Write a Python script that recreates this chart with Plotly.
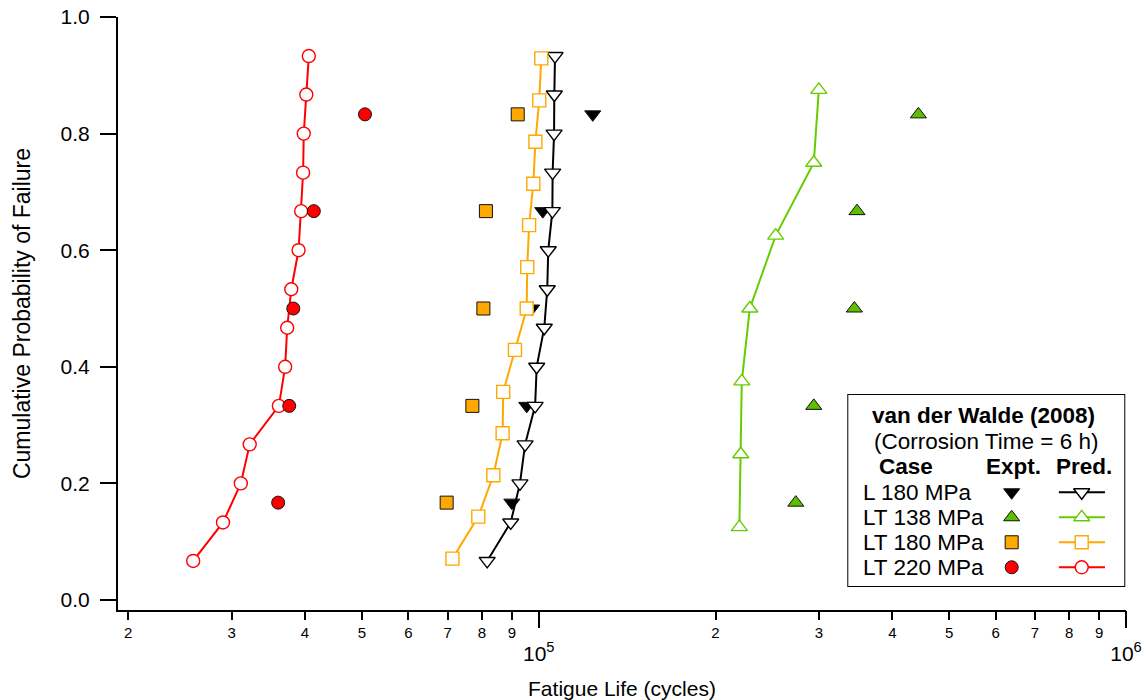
import plotly.graph_objects as go

# ---------------- data ----------------
cases = ["L 180 MPa", "LT 138 MPa", "LT 180 MPa", "LT 220 MPa"]

expt_prob = [0.167, 0.333, 0.500, 0.667, 0.833]

l180_pred_life = [81700, 89600, 92900, 94800, 98600, 99200, 102200, 103400,
                  103800, 105500, 105600, 106200, 106300, 106600]
l180_pred_prob = [0.067, 0.133, 0.200, 0.267, 0.333, 0.400, 0.467, 0.533,
                  0.600, 0.667, 0.733, 0.800, 0.867, 0.933]
l180_expt_life = [90000, 95400, 97300, 101600, 123600]

lt138_pred_life = [219600, 220800, 221700, 228800, 253200, 294000, 299900]
lt138_pred_prob = [0.125, 0.250, 0.375, 0.500, 0.625, 0.750, 0.875]
lt138_expt_life = [274000, 294000, 344700, 348300, 443100]

lt180_pred_life = [71300, 78900, 83700, 86800, 87000, 91100, 95400, 95600,
                   96300, 97900, 98700, 100200, 101000]
lt180_pred_prob = [0.071, 0.143, 0.214, 0.286, 0.357, 0.429, 0.500, 0.571,
                   0.643, 0.714, 0.786, 0.857, 0.929]
lt180_expt_life = [69700, 77100, 80500, 81300, 92100]

lt220_pred_life = [25800, 29000, 31100, 32200, 36100, 37000, 37300, 37900,
                   39000, 39400, 39700, 39800, 40200, 40600]
lt220_pred_prob = [0.067, 0.133, 0.200, 0.267, 0.333, 0.400, 0.467, 0.533,
                   0.600, 0.667, 0.733, 0.800, 0.867, 0.933]
lt220_expt_life = [36000, 37600, 38200, 41400, 50600]

digit_tick_vals = [20000, 30000, 40000, 50000, 60000, 70000, 80000, 90000,
                   200000, 300000, 400000, 500000, 600000, 700000, 800000, 900000]
digit_tick_text = ["2", "3", "4", "5", "6", "7", "8", "9",
                   "2", "3", "4", "5", "6", "7", "8", "9"]
decade_tick_vals = [100000, 1000000]
decade_tick_text = ["10<sup>5</sup>", "10<sup>6</sup>"]
y_tick_vals = [0.0, 0.2, 0.4, 0.6, 0.8, 1.0]

# ---------------- styles ----------------
FONT = "Liberation Sans, Arial, Helvetica, sans-serif"
BLACK = "#000000"
GREEN = "#5CC000"
GREEN_LINE = "#66CC00"
ORANGE = "#FFA800"
RED = "#FF0000"
LEG_FONT = 22.5

styles = {
    "L 180 MPa": dict(color=BLACK, line=BLACK, psym="triangle-down", esym="triangle-down", size=14),
    "LT 138 MPa": dict(color=GREEN, line=GREEN_LINE, psym="triangle-up", esym="triangle-up", size=14),
    "LT 180 MPa": dict(color=ORANGE, line=ORANGE, psym="square", esym="square", size=13),
    "LT 220 MPa": dict(color=RED, line=RED, psym="circle", esym="circle", size=13),
}

series = {
    "L 180 MPa": (l180_pred_life, l180_pred_prob, l180_expt_life),
    "LT 138 MPa": (lt138_pred_life, lt138_pred_prob, lt138_expt_life),
    "LT 180 MPa": (lt180_pred_life, lt180_pred_prob, lt180_expt_life),
    "LT 220 MPa": (lt220_pred_life, lt220_pred_prob, lt220_expt_life),
}


def pred_trace(name, xaxis):
    st = styles[name]
    x, y, _ = series[name]
    return go.Scatter(
        x=x, y=y, mode="lines+markers", name=name + " Pred.", showlegend=False,
        line=dict(color=st["line"], width=2),
        marker=dict(symbol=st["psym"], size=st["size"], color="white", opacity=1,
                    line=dict(color=st["line"], width=1.4)),
        xaxis=xaxis, yaxis="y", hoverinfo="x+y+name")


def expt_trace(name, xaxis):
    st = styles[name]
    _, _, x = series[name]
    return go.Scatter(
        x=x, y=expt_prob, mode="markers", name=name + " Expt.", showlegend=False,
        marker=dict(symbol=st["esym"], size=st["size"], color=st["color"], opacity=1,
                    line=dict(color="#111111", width=1)),
        xaxis=xaxis, yaxis="y", hoverinfo="x+y+name")


fig = go.Figure()
fig.add_trace(expt_trace("L 180 MPa", "x"))
fig.add_trace(pred_trace("L 180 MPa", "x"))
fig.add_trace(expt_trace("LT 180 MPa", "x"))
fig.add_trace(pred_trace("LT 180 MPa", "x"))
fig.add_trace(pred_trace("LT 138 MPa", "x2"))
fig.add_trace(expt_trace("LT 138 MPa", "x2"))
fig.add_trace(pred_trace("LT 220 MPa", "x2"))
fig.add_trace(expt_trace("LT 220 MPa", "x2"))

# ---------------- legend table (inset axes) ----------------
EXPT_COL = 0.592
PRED_L, PRED_M, PRED_R = 0.763, 0.8457, 0.930
for name in cases:
    st = styles[name]
    fig.add_trace(go.Scatter(
        x=[PRED_L, PRED_R], y=[name, name], mode="lines", showlegend=False,
        line=dict(color=st["line"], width=2), xaxis="x3", yaxis="y3", hoverinfo="skip"))
fig.add_trace(go.Scatter(
    x=[PRED_M] * len(cases), y=cases, mode="markers", showlegend=False,
    marker=dict(symbol=[styles[c]["psym"] for c in cases],
                size=[styles[c]["size"] for c in cases], color="white", opacity=1,
                line=dict(color=[styles[c]["line"] for c in cases], width=1.4)),
    xaxis="x3", yaxis="y3", hoverinfo="skip"))
fig.add_trace(go.Scatter(
    x=[EXPT_COL] * len(cases), y=cases, mode="markers", showlegend=False,
    marker=dict(symbol=[styles[c]["esym"] for c in cases],
                size=[styles[c]["size"] for c in cases],
                color=[styles[c]["color"] for c in cases], opacity=1,
                line=dict(color="#111111", width=1)),
    xaxis="x3", yaxis="y3", hoverinfo="skip"))

ann = []
for name in cases:
    ann.append(dict(x=0.045, y=name, xref="x3", yref="y3", text=name, showarrow=False,
                    xanchor="left", yanchor="middle", font=dict(size=LEG_FONT, color=BLACK)))
ann += [
    dict(x=0.491, y=6.09, xref="x3", yref="y3", text="<b>van der Walde (2008)</b>",
         showarrow=False, xanchor="center", yanchor="middle", font=dict(size=LEG_FONT, color=BLACK)),
    dict(x=0.500, y=5.05, xref="x3", yref="y3", text="(Corrosion Time = 6 h)",
         showarrow=False, xanchor="center", yanchor="middle", font=dict(size=LEG_FONT, color=BLACK)),
    dict(x=0.208, y=4.05, xref="x3", yref="y3", text="<b>Case</b>",
         showarrow=False, xanchor="center", yanchor="middle", font=dict(size=LEG_FONT, color=BLACK)),
    dict(x=0.598, y=4.05, xref="x3", yref="y3", text="<b>Expt.</b>",
         showarrow=False, xanchor="center", yanchor="middle", font=dict(size=LEG_FONT, color=BLACK)),
    dict(x=0.854, y=4.05, xref="x3", yref="y3", text="<b>Pred.</b>",
         showarrow=False, xanchor="center", yanchor="middle", font=dict(size=LEG_FONT, color=BLACK)),
]

X_RANGE = [4.2836, 6.0]

fig.update_layout(
    width=1148, height=700,
    margin=dict(l=118, r=22, t=17, b=90),
    paper_bgcolor="white", plot_bgcolor="white",
    font=dict(family=FONT, size=21, color=BLACK),
    showlegend=False,
    xaxis=dict(
        type="log", range=X_RANGE, domain=[0, 1], anchor="y", automargin=False,
        tickmode="array", tickvals=digit_tick_vals, ticktext=digit_tick_text,
        ticks="outside", ticklen=8, tickwidth=2, tickcolor=BLACK,
        tickfont=dict(size=15), showline=True, linewidth=2, linecolor=BLACK,
        showgrid=False, zeroline=False,
        title=dict(text="Fatigue Life (cycles)", font=dict(size=21), standoff=46),
    ),
    xaxis2=dict(
        type="log", range=X_RANGE, overlaying="x", anchor="y", side="bottom",
        automargin=False,
        tickmode="array", tickvals=decade_tick_vals, ticktext=decade_tick_text,
        ticks="outside", ticklen=17, tickwidth=2, tickcolor=BLACK,
        tickfont=dict(size=21), showline=False, showgrid=False, zeroline=False,
        ticklabelstandoff=8,
    ),
    yaxis=dict(
        range=[-0.01715, 1.0], domain=[0, 1], anchor="x", automargin=False,
        tickmode="array", tickvals=y_tick_vals, tickformat=".1f",
        ticks="outside", ticklen=16, tickwidth=2, tickcolor=BLACK,
        tickfont=dict(size=21), showline=True, linewidth=2, linecolor=BLACK,
        showgrid=False, zeroline=False, ticklabelstandoff=6,
        title=dict(text="Cumulative Probability of Failure", font=dict(size=23), standoff=24),
    ),
    xaxis3=dict(domain=[0.7245, 0.9983], anchor="y3", range=[0, 1], visible=False),
    yaxis3=dict(domain=[0.0405, 0.3626], anchor="x3", type="category",
                categoryorder="array", categoryarray=cases[::-1],
                range=[-0.748, 6.892], visible=False),
    shapes=[dict(type="rect", xref="x3 domain", yref="y3 domain", x0=0, x1=1, y0=0, y1=1,
                 line=dict(color=BLACK, width=2), fillcolor="white", layer="below")],
    annotations=ann,
)

fig.write_html("out.html")
